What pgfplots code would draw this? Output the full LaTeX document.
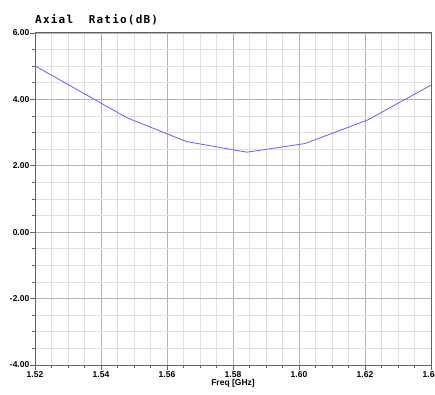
\documentclass[border=0pt]{standalone}
\usepackage{pgfplots}
\pgfplotsset{compat=1.18}
\usepackage{fontspec}
\setmainfont{Liberation Sans}
\newfontfamily\titlefont[LetterSpace=11]{DejaVu Sans Mono}
\definecolor{minorgrid}{RGB}{224,224,224}
\definecolor{majorgrid}{RGB}{178,178,178}
\definecolor{curve}{RGB}{96,96,255}
\definecolor{axisgray}{RGB}{100,100,100}
\begin{document}
\begin{tikzpicture}
\begin{axis}[
  scale only axis,
  width=396pt, height=332pt,
  xmin=1.52, xmax=1.64, ymin=-4, ymax=6,
  xtick={1.52,1.54,...,1.641},
  ytick={-4,-2,...,6},
  minor x tick num=3,
  minor y tick num=3,
  grid=both,
  major grid style={majorgrid, line width=0.9pt},
  minor grid style={minorgrid, line width=0.9pt},
  axis line style={axisgray, line width=1pt},
  tick align=outside,
  xtick pos=bottom, ytick pos=left,
  major tick length=5pt, minor tick length=3pt,
  every tick/.style={axisgray, line width=0.8pt},
  xticklabel style={font=\fontsize{8.5}{9}\selectfont\bfseries, inner sep=1pt},
  yticklabel style={font=\fontsize{8.5}{9}\selectfont\bfseries, inner sep=0.5pt},
  /pgf/number format/assume math mode=true,
  xticklabel={\pgfmathprintnumber[fixed, fixed zerofill, precision=2]{\tick}},
  yticklabel={\pgfmathprintnumber[fixed, fixed zerofill, precision=2]{\tick}},
  xlabel={\bfseries Freq [GHz]},
  xlabel style={font=\fontsize{8.5}{9}\selectfont, inner sep=1pt, yshift=0pt},
  clip=false,
]
\addplot[curve, line width=0.8pt] coordinates {
  (1.5200,5.01) (1.5478,3.45) (1.5659,2.73) (1.5842,2.41)
  (1.6018,2.67) (1.6208,3.38) (1.6400,4.43)
};
\node[anchor=south west, inner sep=0pt, font=\titlefont\fontsize{11}{12}\selectfont\bfseries]
  at (rel axis cs:0,1) [yshift=8pt] {Axial\ \ Ratio(dB)};
\end{axis}
\pgfresetboundingbox
\useasboundingbox (-35pt,-29pt) rectangle (400pt,365pt);
\end{tikzpicture}
\end{document}
